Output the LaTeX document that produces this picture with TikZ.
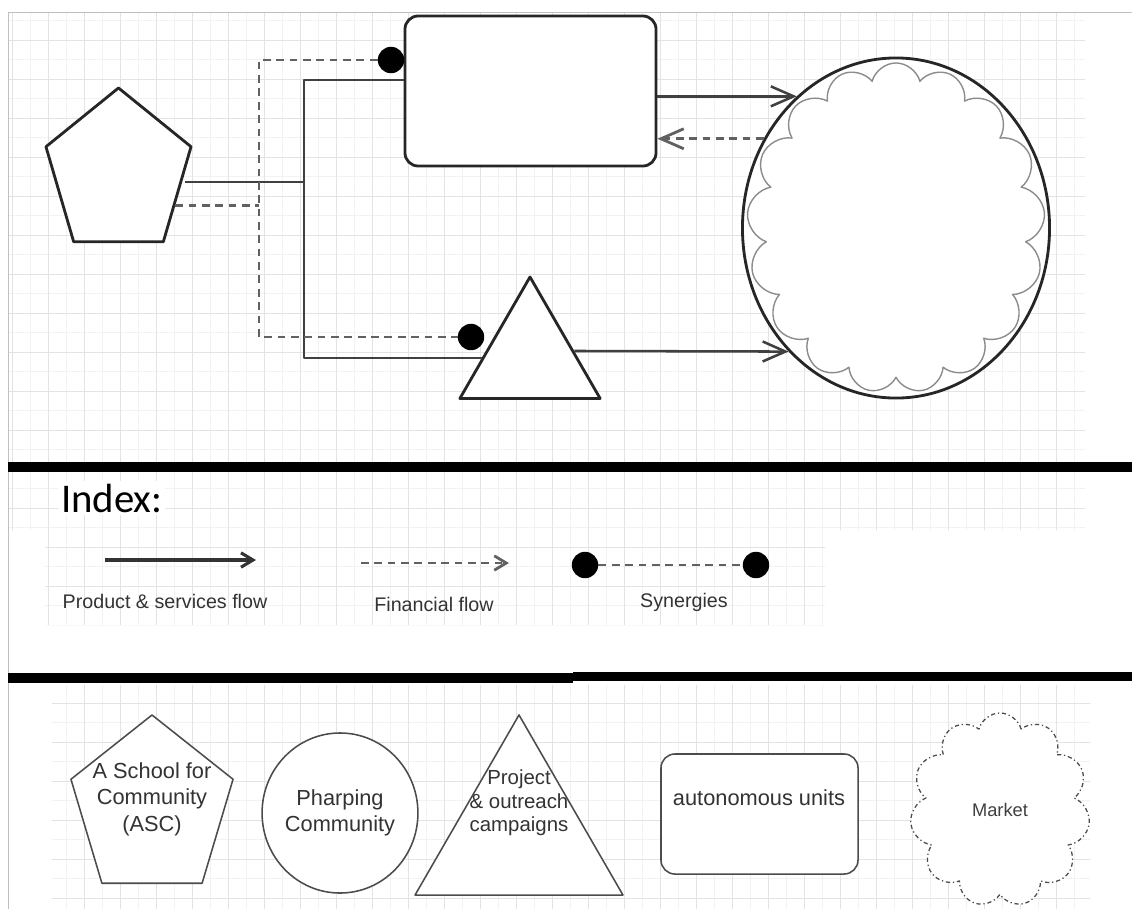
\documentclass[tikz,border=0pt]{standalone}
\usepackage{fontspec}
\setmainfont{Liberation Sans}
\newfontfamily\indexfont{Carlito}
\usetikzlibrary{shapes.geometric, shapes.symbols, arrows.meta}

\tikzset{
  gridminor/.style={black!5, line width=0.5pt},
  gridmajor/.style={black!11, line width=0.5pt},
  shapeT/.style={draw=black!85, line width=2pt, fill=white, inner sep=0pt},
  shapeL/.style={draw=black!70, line width=1.1pt, fill=white, inner sep=0pt},
  prod/.style={draw=black!75, line width=1.8pt},
  fin/.style={draw=black!62, line width=2pt, dash pattern=on 5.5pt off 4pt},
  syn/.style={circle, fill=black, minimum size=0.66cm, inner sep=0pt},
  tipT/.style={-{Straight Barb[length=0.57cm, width=0.5cm]}},
  tipL/.style={-{Straight Barb[length=0.3cm, width=0.36cm]}},
  lbl/.style={font=\fontsize{15.5}{18.8}\selectfont, align=center, text=black!80},
  keytext/.style={font=\fontsize{14}{17}\selectfont, text=black!80},
  bar/.style={line width=6.5pt, black},
}

\begin{document}
\begin{tikzpicture}[x=0.025cm, y=-0.025cm, line join=round]
\fill[white] (0,0) rectangle (1132,909);
\useasboundingbox (0,0) rectangle (1132,909);

% grid paper
\begin{scope}
  \clip (8,12) rectangle (1085,462) (8,472) rectangle (1085,530)
        (45,530) rectangle (825,625) (52,685) rectangle (1090,909);
  \foreach \gx in {12,30,...,1100} \draw[gridminor] (\gx,0) -- (\gx,909);
  \foreach \gy in {1,20.5,...,909} \draw[gridminor] (0,\gy) -- (1132,\gy);
  \foreach \gx in {12,48,...,1100} \draw[gridmajor] (\gx,0) -- (\gx,909);
  \foreach \gy in {40,79,...,909} \draw[gridmajor] (0,\gy) -- (1132,\gy);
\end{scope}
\draw[black!25, line width=0.6pt] (8,909) -- (8,12) -- (1132,12);

% top diagram
\begin{scope}[shift={(118.5,173)}, xscale=0.897]
  \node[shapeT, regular polygon, regular polygon sides=5, minimum size=4.25cm, transform shape] (ascT) at (0,0) {};
\end{scope}
\node[shapeT, rounded corners=0.33cm, minimum width=6.275cm, minimum height=3.75cm] (auT) at (530.5,91) {};
\node[shapeT, regular polygon, regular polygon sides=3, minimum size=4.05cm] (paT) at (530,358) {};
\node[shapeT, ellipse, minimum width=7.675cm, minimum height=8.5cm] (mkT) at (896,228) {};
\node[cloud, cloud puffs=17, cloud puff arc=150, cloud ignores aspect, draw=black!45, line width=1pt, minimum width=7.45cm, minimum height=8.25cm, inner sep=0pt] (mkC) at (896,228) {};

\coordinate (sJ) at (304,182);
\coordinate (fJ) at (259,208);
\node[syn] (synA) at (391,60) {};
\node[syn] (synP) at (471,337) {};

\draw[prod] (ascT.east |- sJ) -- (sJ);
\draw[prod] (auT.175) -| (sJ) |- (paT.west);
\draw[fin] (ascT.-27) -- (ascT.-27 -| fJ);
\draw[fin] (synA) -| (fJ) |- (synP);

\draw[prod, tipT] (auT.east |- mkT.127) -- (mkT.127);
\draw[fin, tipT] (mkT.146) -- (mkT.146 -| auT.east);
\draw[prod, tipT] (paT.9) -- (mkT.229);

% separators
\draw[bar] (8,467) -- (1132,467);
\draw[bar] (8,678) -- (573,678);
\draw[bar] (573,676.5) -- (1132,676.5);

% index
\node[anchor=base west, font=\indexfont\fontsize{29}{34}\selectfont, fill=white, inner sep=2pt] (idx) at (58,512) {Index:};
\coordinate (pfA) at (105,560);
\coordinate (pfB) at (256,560);
\draw[line width=2.2pt, black!80, tipL] (pfA) -- (pfB);
\node[keytext] (pfL) at (165,601) {Product \& services flow};
\coordinate (ffA) at (361,563);
\coordinate (ffB) at (509,563);
\draw[fin, tipL] (ffA) -- (ffB);
\node[keytext] (ffL) at (434,604) {Financial flow};
\node[syn] (synL1) at (585,565) {};
\node[syn] (synL2) at (756,565) {};
\draw[fin] (synL1) -- (synL2);
\node[keytext] (synLbl) at (684,602) {Synergies};

% legend shapes
\begin{scope}[shift={(152,808)}, xscale=0.916]
  \node[shapeL, regular polygon, regular polygon sides=5, minimum size=4.65cm, transform shape] (ascL) at (0,0) {};
\end{scope}
\node[lbl] (ascTx) at (152,799) {A School for\\Community\\(ASC)};
\node[shapeL, ellipse, minimum width=3.6cm, minimum height=4cm, lbl] (phL) at (340,813) {Pharping\\Community};
\node[shapeL, regular polygon, regular polygon sides=3, minimum size=6cm] (paL) at (519,835) {};
\node[lbl, font=\fontsize{14.5}{16.7}\selectfont] (paTx) at (519,803) {Project\\\& outreach\\campaigns};
\node[shapeL, rounded corners=0.35cm, minimum width=4.925cm, minimum height=3cm] (auL) at (759.5,814) {};
\node[lbl] (auTx) at (759,798) {autonomous units};
\node[cloud, cloud puffs=11, cloud ignores aspect, draw=black!70, line width=0.9pt, dashdotted, fill=white, minimum width=4.5cm, minimum height=4.85cm, font=\fontsize{13}{15}\selectfont, text=black!75] (mkL) at (1000,810) {Market};
\end{tikzpicture}
\end{document}
